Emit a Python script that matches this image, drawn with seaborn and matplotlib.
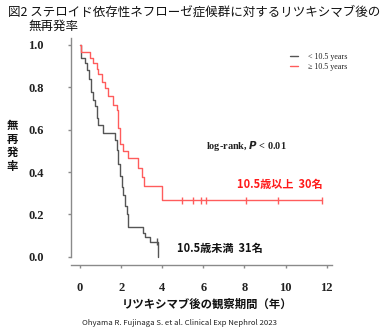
import numpy as np
import pandas as pd
import matplotlib
matplotlib.use("Agg")
import matplotlib.pyplot as plt
import seaborn as sns
from matplotlib.lines import Line2D

# ---------------- data ----------------
groups = ["< 10.5 years", "\u2265 10.5 years"]

young_t = [0, 0.05, 0.24, 0.36, 0.45, 0.52, 0.65, 0.73, 0.81, 0.89, 1.13, 1.70,
           1.78, 1.86, 1.95, 2.03, 2.11, 2.19, 2.27, 2.35, 3.07, 3.16, 3.41, 3.81]
young_s = [1.0, 0.94, 0.915, 0.88, 0.84, 0.78, 0.74, 0.71, 0.655, 0.62, 0.583, 0.55,
           0.504, 0.44, 0.38, 0.33, 0.29, 0.24, 0.20, 0.14, 0.111, 0.094, 0.071, 0.0]
young_cens_t = [3.73]
young_cens_s = [0.071]

old_t = [0, 0.05, 0.49, 0.65, 0.81, 0.89, 1.05, 1.21, 1.38, 1.62, 1.79, 1.86,
         1.95, 2.11, 2.35, 2.84, 3.00, 3.11, 3.98, 11.78]
old_s = [1.0, 0.967, 0.94, 0.914, 0.887, 0.861, 0.823, 0.796, 0.757, 0.717, 0.693, 0.607,
         0.533, 0.50, 0.467, 0.417, 0.377, 0.333, 0.267, 0.267]
old_cens_t = [4.97, 5.50, 5.90, 6.15, 8.09, 9.63, 11.78]
old_cens_s = [0.267] * 7

x_ticks = [0, 2, 4, 6, 8, 10, 12]
y_ticks = [0.0, 0.2, 0.4, 0.6, 0.8, 1.0]
y_tick_labels = ["0.0", "0.2", "0.4", "0.6", "0.8", "1.0"]

colors = {groups[0]: "#555555", groups[1]: "#ff5c5c"}

title_line1 = "図2 ステロイド依存性ネフローゼ症候群に対するリツキシマブ後の"
title_line2 = "無再発率"
y_label = "無再発率"
x_label = "リツキシマブ後の観察期間（年）"
young_note = "10.5歳未満  31名"
old_note = "10.5歳以上  30名"
citation = "Ohyama R. Fujinaga S. et al. Clinical Exp Nephrol 2023"

# ---------------- tables ----------------
curve_df = pd.concat([
    pd.DataFrame({"t": young_t, "S": young_s, "group": groups[0]}),
    pd.DataFrame({"t": old_t, "S": old_s, "group": groups[1]}),
], ignore_index=True)
cens_df = pd.concat([
    pd.DataFrame({"t": young_cens_t, "S": young_cens_s, "group": groups[0]}),
    pd.DataFrame({"t": old_cens_t, "S": old_cens_s, "group": groups[1]}),
], ignore_index=True)

# ---------------- styling ----------------
sns.set_theme(style="white")
plt.rcParams["font.family"] = ["Noto Sans CJK JP", "DejaVu Sans"]

W, H = 381, 330
fig = plt.figure(figsize=(W / 100, H / 100), dpi=100)
fig.patch.set_facecolor("white")


def fx(x):
    return x / W


def fy(y):
    return 1 - y / H


ax_l, ax_r, ax_t, ax_b = 71, 332, 38, 265
ax = fig.add_axes([fx(ax_l), fy(ax_b), (ax_r - ax_l) / W, (ax_b - ax_t) / H])
ax.set_facecolor("white")

sns.lineplot(data=curve_df, x="t", y="S", hue="group", palette=colors,
             estimator=None, sort=False, drawstyle="steps-post",
             linewidth=1.0, legend=False, ax=ax)
sns.scatterplot(data=cens_df, x="t", y="S", hue="group", palette=colors,
                marker="|", s=28, linewidths=1.0, legend=False, ax=ax)

ax.set_xlim(-0.44, 12.26)
ax.set_ylim(-0.039, 1.033)

for side in ["top", "right"]:
    ax.spines[side].set_visible(False)
for side in ["left", "bottom"]:
    ax.spines[side].set_color("#8a8a8a")
    ax.spines[side].set_linewidth(1.0)
ax.spines["left"].set_bounds(0.0, 1.033)

ax.set_xticks(x_ticks)
ax.set_xticklabels([str(v) for v in x_ticks])
ax.set_yticks(y_ticks)
ax.set_yticklabels(y_tick_labels)
ax.tick_params(axis="both", which="both", direction="out", color="#8a8a8a",
               length=2.5, width=1.0, left=True, bottom=True)
ax.tick_params(axis="y", pad=17)
ax.tick_params(axis="x", pad=10)
for lab in ax.get_xticklabels() + ax.get_yticklabels():
    lab.set_fontfamily("Liberation Serif")
    lab.set_fontweight("bold")
    lab.set_fontsize(9)
    lab.set_color("#222222")
ax.set_xlabel("")
ax.set_ylabel("")

# legend
handles = [Line2D([0], [0], color=colors[g], lw=1.0) for g in groups]
leg = fig.legend(handles, groups, loc="center left",
                 bbox_to_anchor=(fx(283), fy(62)), frameon=False,
                 handlelength=1.0, handletextpad=1.2, labelspacing=0.3,
                 prop={"family": "Liberation Serif", "size": 5.8})
for t in leg.get_texts():
    t.set_color("#222222")

# texts
fig.text(fx(8), fy(12), title_line1, fontsize=9.0, ha="left", va="center",
         color="#111111")
fig.text(fx(28), fy(26), title_line2, fontsize=9.0, ha="left", va="center",
         color="#111111")
fig.text(fx(12), fy(146), "\n".join(y_label), fontsize=8.2, fontweight="bold",
         ha="center", va="center", linespacing=1.05, color="#111111")
fig.text(fx(207), fy(304), x_label, fontsize=8.2, fontweight="bold",
         ha="center", va="center", color="#111111")
fig.text(fx(206), fy(146), "log-rank, $\\mathbfit{P}$ < 0.01",
         fontsize=7.4, fontweight="bold", family="Liberation Serif",
         ha="left", va="center", color="#222222")
fig.text(fx(323), fy(184), old_note, fontsize=8, fontweight="bold",
         ha="right", va="center", color="#ff1a1a")
fig.text(fx(177), fy(248), young_note, fontsize=8, fontweight="bold",
         ha="left", va="center", color="#111111")
fig.text(fx(82), fy(323), citation, fontsize=5.6, ha="left", va="center",
         color="#222222")

fig.savefig("out.png", dpi=100, facecolor="white")
